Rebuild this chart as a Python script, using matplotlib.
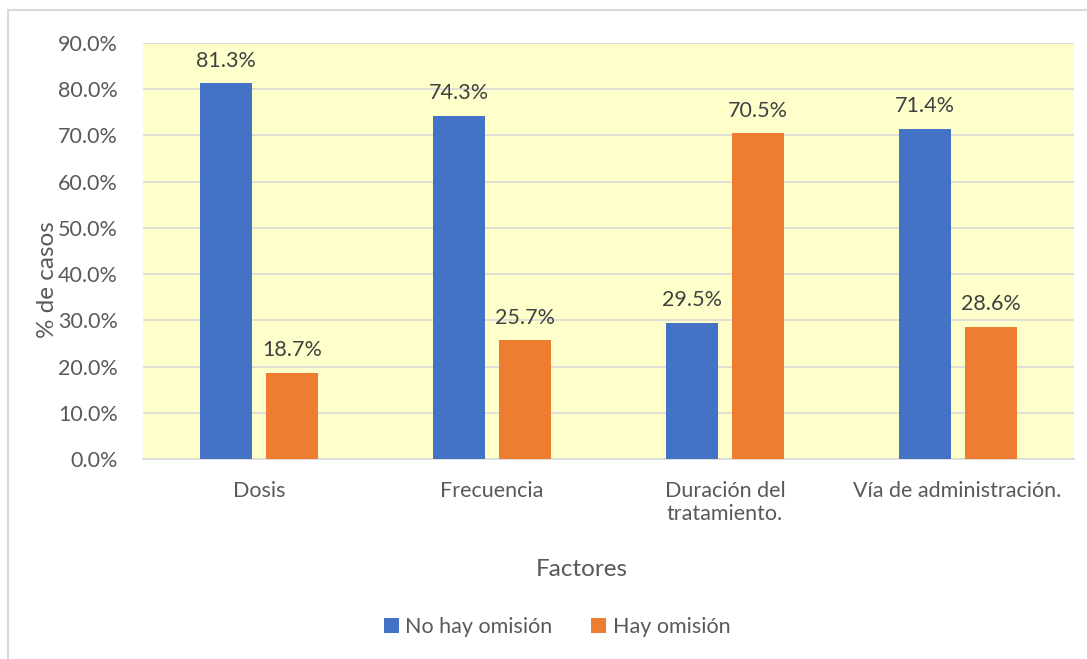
import numpy as np
import matplotlib.pyplot as plt
from matplotlib.lines import Line2D
import matplotlib.ticker as mticker

# Datos
factores = ['Dosis', 'Frecuencia', 'Duración del\ntratamiento.', 'Vía de administración.']
no_omision = [81.3, 74.3, 29.5, 71.4]
si_omision = [18.7, 25.7, 70.5, 28.6]
series = ['No hay omisión', 'Hay omisión']

azul = '#4472C4'
naranja = '#ED7D31'
gris_txt = '#595959'
fs = 15.5

plt.rcParams['font.family'] = ['Lato', 'DejaVu Sans']

fig = plt.figure(figsize=(10.87, 6.59), dpi=100)
ax = fig.add_axes([143 / 1087, 1 - 459 / 659, (1074 - 143) / 1087, (459 - 43) / 659])
ax.set_facecolor('#FFFFCC')

x = np.arange(len(factores))
ancho = 0.223
desp = 0.142
b1 = ax.bar(x - desp, no_omision, ancho, color=azul, label=series[0], zorder=3)
b2 = ax.bar(x + desp, si_omision, ancho, color=naranja, label=series[1], zorder=3)

for barras, vals in ((b1, no_omision), (b2, si_omision)):
    for b, v in zip(barras, vals):
        ax.annotate(f'{v:.1f}%', (b.get_x() + b.get_width() / 2, v),
                    xytext=(0, 9), textcoords='offset points',
                    ha='center', va='bottom', fontsize=fs, color='#404040')

ax.set_xlim(-0.5, 3.5)
ax.set_ylim(0, 90)
ax.set_yticks(np.arange(0, 91, 10))
ax.yaxis.set_major_formatter(mticker.StrMethodFormatter('{x:.1f}%'))
ax.set_xticks(x)
ax.set_xticklabels(factores, fontsize=fs, color=gris_txt, linespacing=1.2)
ax.tick_params(axis='y', labelsize=fs, labelcolor=gris_txt, length=0, pad=18)
ax.tick_params(axis='x', length=0, pad=16)
ax.grid(axis='y', color='#D9D9D9', linewidth=1.2, zorder=0)
for s in ['top', 'right', 'left']:
    ax.spines[s].set_visible(False)
ax.spines['bottom'].set_color('#D9D9D9')
ax.spines['bottom'].set_linewidth(1.2)

fig.text(47 / 1087, 1 - 280 / 659, '% de casos', rotation=90, ha='center', va='center',
         fontsize=17.5, color=gris_txt)
fig.text(582 / 1087, 1 - 570 / 659, 'Factores', ha='center', va='center',
         fontsize=17.5, color=gris_txt)

fig.legend(handles=[b1, b2], labels=series, loc='center', bbox_to_anchor=(557 / 1087, 1 - 627 / 659),
           ncol=2, frameon=False, fontsize=fs, labelcolor=gris_txt,
           handlelength=0.7, handleheight=0.7, handletextpad=0.3, columnspacing=1.8)

# marco del gráfico
fig.add_artist(Line2D([8 / 1087, 8 / 1087], [0, 1 - 10 / 659], transform=fig.transFigure,
                      color='#D9D9D9', linewidth=1.5))
fig.add_artist(Line2D([8 / 1087, 1], [1 - 10 / 659, 1 - 10 / 659], transform=fig.transFigure,
                      color='#D9D9D9', linewidth=1.5))

fig.savefig('out.png', dpi=100)
